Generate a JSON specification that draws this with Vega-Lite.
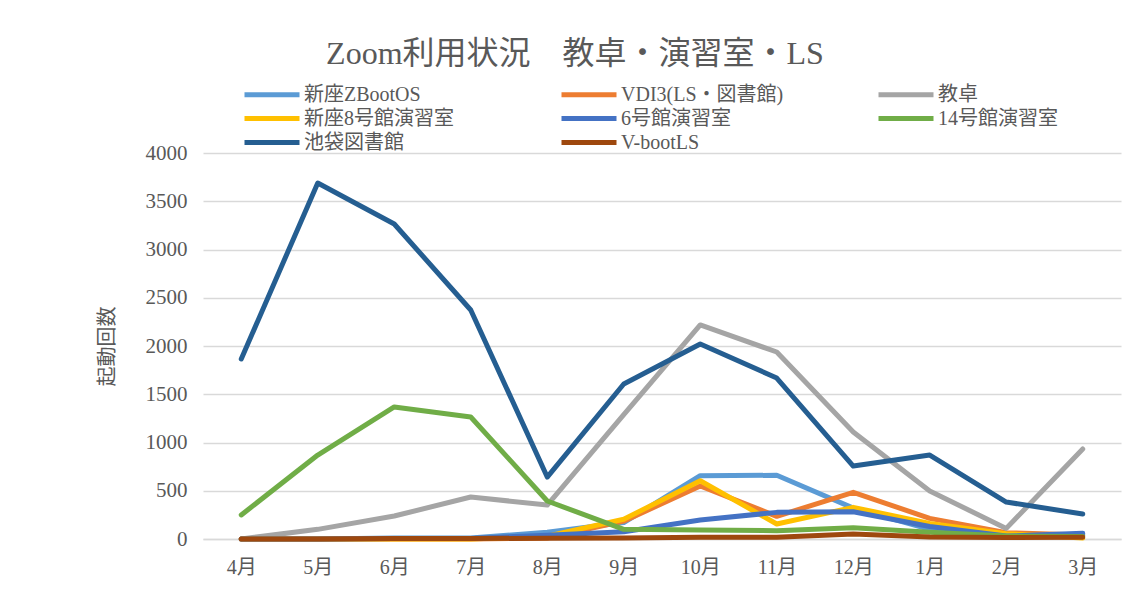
{
  "$schema": "https://vega.github.io/schema/vega-lite/v6.json",
  "width": 918,
  "height": 386,
  "autosize": {"type": "none"},
  "padding": {"left": 203, "top": 153, "right": 10, "bottom": 54},
  "background": "white",
  "config": {
    "font": "Liberation Serif, Noto Sans CJK JP",
    "view": {"stroke": null}
  },
  "title": {
    "text": "Zoom利用状況　教卓・演習室・LS",
    "fontSize": 32,
    "fontWeight": "normal",
    "color": "#595959",
    "font": "Liberation Serif, Noto Sans CJK JP",
    "anchor": "middle",
    "dx": -87,
    "offset": 10
  },
  "data": {
    "values": [
      {"month": "4月", "series": "新座ZBootOS", "value": 0},
      {"month": "5月", "series": "新座ZBootOS", "value": 0},
      {"month": "6月", "series": "新座ZBootOS", "value": 10},
      {"month": "7月", "series": "新座ZBootOS", "value": 10},
      {"month": "8月", "series": "新座ZBootOS", "value": 70},
      {"month": "9月", "series": "新座ZBootOS", "value": 170},
      {"month": "10月", "series": "新座ZBootOS", "value": 656},
      {"month": "11月", "series": "新座ZBootOS", "value": 660},
      {"month": "12月", "series": "新座ZBootOS", "value": 320},
      {"month": "1月", "series": "新座ZBootOS", "value": 100},
      {"month": "2月", "series": "新座ZBootOS", "value": 20},
      {"month": "3月", "series": "新座ZBootOS", "value": 40},
      {"month": "4月", "series": "VDI3(LS・図書館)", "value": 0},
      {"month": "5月", "series": "VDI3(LS・図書館)", "value": 0},
      {"month": "6月", "series": "VDI3(LS・図書館)", "value": 0},
      {"month": "7月", "series": "VDI3(LS・図書館)", "value": 0},
      {"month": "8月", "series": "VDI3(LS・図書館)", "value": 10},
      {"month": "9月", "series": "VDI3(LS・図書館)", "value": 185},
      {"month": "10月", "series": "VDI3(LS・図書館)", "value": 549},
      {"month": "11月", "series": "VDI3(LS・図書館)", "value": 235},
      {"month": "12月", "series": "VDI3(LS・図書館)", "value": 484},
      {"month": "1月", "series": "VDI3(LS・図書館)", "value": 214},
      {"month": "2月", "series": "VDI3(LS・図書館)", "value": 65},
      {"month": "3月", "series": "VDI3(LS・図書館)", "value": 41},
      {"month": "4月", "series": "教卓", "value": 0},
      {"month": "5月", "series": "教卓", "value": 100},
      {"month": "6月", "series": "教卓", "value": 238},
      {"month": "7月", "series": "教卓", "value": 435},
      {"month": "8月", "series": "教卓", "value": 352},
      {"month": "9月", "series": "教卓", "value": 1290},
      {"month": "10月", "series": "教卓", "value": 2218},
      {"month": "11月", "series": "教卓", "value": 1938},
      {"month": "12月", "series": "教卓", "value": 1109},
      {"month": "1月", "series": "教卓", "value": 497},
      {"month": "2月", "series": "教卓", "value": 110},
      {"month": "3月", "series": "教卓", "value": 933},
      {"month": "4月", "series": "新座8号館演習室", "value": 0},
      {"month": "5月", "series": "新座8号館演習室", "value": 0},
      {"month": "6月", "series": "新座8号館演習室", "value": 0},
      {"month": "7月", "series": "新座8号館演習室", "value": 0},
      {"month": "8月", "series": "新座8号館演習室", "value": 30},
      {"month": "9月", "series": "新座8号館演習室", "value": 204},
      {"month": "10月", "series": "新座8号館演習室", "value": 604},
      {"month": "11月", "series": "新座8号館演習室", "value": 155},
      {"month": "12月", "series": "新座8号館演習室", "value": 328},
      {"month": "1月", "series": "新座8号館演習室", "value": 162},
      {"month": "2月", "series": "新座8号館演習室", "value": 55},
      {"month": "3月", "series": "新座8号館演習室", "value": 10},
      {"month": "4月", "series": "6号館演習室", "value": 0},
      {"month": "5月", "series": "6号館演習室", "value": 0},
      {"month": "6月", "series": "6号館演習室", "value": 5},
      {"month": "7月", "series": "6号館演習室", "value": 5},
      {"month": "8月", "series": "6号館演習室", "value": 40},
      {"month": "9月", "series": "6号館演習室", "value": 76},
      {"month": "10月", "series": "6号館演習室", "value": 197},
      {"month": "11月", "series": "6号館演習室", "value": 276},
      {"month": "12月", "series": "6号館演習室", "value": 283},
      {"month": "1月", "series": "6号館演習室", "value": 130},
      {"month": "2月", "series": "6号館演習室", "value": 30},
      {"month": "3月", "series": "6号館演習室", "value": 59},
      {"month": "4月", "series": "14号館演習室", "value": 249},
      {"month": "5月", "series": "14号館演習室", "value": 870},
      {"month": "6月", "series": "14号館演習室", "value": 1368},
      {"month": "7月", "series": "14号館演習室", "value": 1264},
      {"month": "8月", "series": "14号館演習室", "value": 394},
      {"month": "9月", "series": "14号館演習室", "value": 100},
      {"month": "10月", "series": "14号館演習室", "value": 93},
      {"month": "11月", "series": "14号館演習室", "value": 86},
      {"month": "12月", "series": "14号館演習室", "value": 117},
      {"month": "1月", "series": "14号館演習室", "value": 70},
      {"month": "2月", "series": "14号館演習室", "value": 30},
      {"month": "3月", "series": "14号館演習室", "value": 25},
      {"month": "4月", "series": "池袋図書館", "value": 1865},
      {"month": "5月", "series": "池袋図書館", "value": 3689},
      {"month": "6月", "series": "池袋図書館", "value": 3264},
      {"month": "7月", "series": "池袋図書館", "value": 2373},
      {"month": "8月", "series": "池袋図書館", "value": 642},
      {"month": "9月", "series": "池袋図書館", "value": 1606},
      {"month": "10月", "series": "池袋図書館", "value": 2021},
      {"month": "11月", "series": "池袋図書館", "value": 1668},
      {"month": "12月", "series": "池袋図書館", "value": 756},
      {"month": "1月", "series": "池袋図書館", "value": 870},
      {"month": "2月", "series": "池袋図書館", "value": 383},
      {"month": "3月", "series": "池袋図書館", "value": 259},
      {"month": "4月", "series": "V-bootLS", "value": 0},
      {"month": "5月", "series": "V-bootLS", "value": 0},
      {"month": "6月", "series": "V-bootLS", "value": 5},
      {"month": "7月", "series": "V-bootLS", "value": 5},
      {"month": "8月", "series": "V-bootLS", "value": 8},
      {"month": "9月", "series": "V-bootLS", "value": 10},
      {"month": "10月", "series": "V-bootLS", "value": 17},
      {"month": "11月", "series": "V-bootLS", "value": 17},
      {"month": "12月", "series": "V-bootLS", "value": 52},
      {"month": "1月", "series": "V-bootLS", "value": 20},
      {"month": "2月", "series": "V-bootLS", "value": 15},
      {"month": "3月", "series": "V-bootLS", "value": 17}
    ]
  },
  "mark": {"type": "line", "strokeWidth": 5, "strokeCap": "round", "strokeJoin": "round"},
  "encoding": {
    "x": {
      "field": "month",
      "type": "ordinal",
      "sort": ["4月", "5月", "6月", "7月", "8月", "9月", "10月", "11月", "12月", "1月", "2月", "3月"],
      "scale": {"type": "point", "padding": 0.5},
      "axis": {
        "title": null,
        "labelAngle": 0,
        "labelFontSize": 20,
        "labelColor": "#595959",
        "labelPadding": 18,
        "ticks": false,
        "domainColor": "#d9d9d9",
        "domainWidth": 1.5,
        "grid": false
      }
    },
    "y": {
      "field": "value",
      "type": "quantitative",
      "scale": {"domain": [0, 4000], "nice": false},
      "axis": {
        "title": "起動回数",
        "titleFontSize": 20,
        "titleFontWeight": "normal",
        "titleColor": "#595959",
        "titlePadding": 28,
        "format": "d",
        "values": [0, 500, 1000, 1500, 2000, 2500, 3000, 3500, 4000],
        "labelFontSize": 21,
        "labelColor": "#595959",
        "labelPadding": 16,
        "ticks": false,
        "domain": false,
        "gridColor": "#d9d9d9",
        "gridWidth": 1.5
      }
    },
    "color": {
      "field": "series",
      "type": "nominal",
      "scale": {
        "domain": ["新座ZBootOS", "VDI3(LS・図書館)", "教卓", "新座8号館演習室", "6号館演習室", "14号館演習室", "池袋図書館", "V-bootLS"],
        "range": ["#5B9BD5", "#ED7D31", "#A5A5A5", "#FFC000", "#4472C4", "#70AD47", "#255E91", "#9E480E"]
      },
      "legend": {
        "title": null,
        "orient": "none",
        "legendX": 39,
        "legendY": -72,
        "direction": "horizontal",
        "columns": 3,
        "gridAlign": "all",
        "columnPadding": 84,
        "rowPadding": -2.5,
        "symbolType": "M-1,0L4,0",
        "symbolSize": 484,
        "symbolStrokeWidth": 5,
        "symbolFillColor": "transparent",
        "labelFontSize": 20,
        "labelColor": "#595959",
        "labelOffset": 35,
        "labelLimit": 400
      }
    },
    "order": {"field": "series"}
  }
}
